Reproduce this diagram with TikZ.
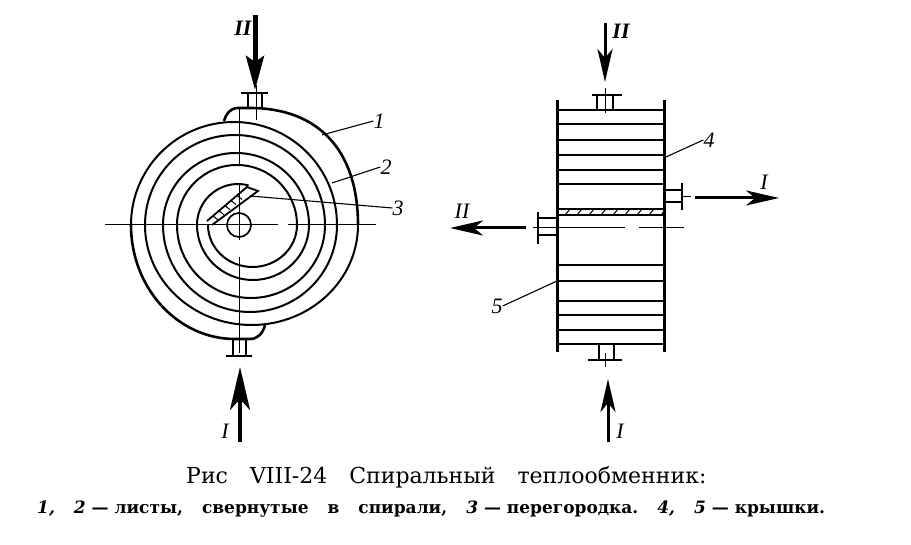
\documentclass[tikz,border=0pt]{standalone}
\usepackage{fontspec}
\setmainfont{Liberation Serif}
\newfontfamily\capfont{DejaVu Serif}
\usetikzlibrary{arrows.meta,calc}
\newcommand{\gapA}{\hspace{22pt}}
\newcommand{\gapB}{\hspace{19pt}}
\tikzset{
  sheet/.style={line width=2pt},
  outersheet/.style={line width=2.6pt},
  wall/.style={line width=3pt},
  plate/.style={line width=1.8pt},
  nozzle/.style={line width=1.7pt},
  flange/.style={line width=2.6pt},
  axisline/.style={line width=1pt},
  leader/.style={line width=1.1pt},
  flow/.style={line width=3pt,-{Stealth[length=33pt,width=15pt,inset=9pt]}},
  partlabel/.style={font=\fontsize{22}{22}\selectfont\itshape,inner sep=0pt},
  flowlabel/.style={font=\fontsize{22}{22}\selectfont\itshape,inner sep=0pt},
}
\begin{document}
\begin{tikzpicture}[x=1pt,y=1pt]
         \useasboundingbox (0,0) rectangle (911,545);
         \coordinate (Tip) at (258,354);

         \foreach \xl/\xr/\ry in {177/297/60,163/309/72,145/325/90,131/337/103}
            \draw[sheet] (\xr,320) arc[start angle=0,end angle=180,x radius={(\xr-\xl)/2},y radius=\ry];
         \foreach \xl/\xr/\ry in {208/297/42,197/309/55,177/325/73,163/337/87,145/358/100}
            \draw[sheet] (\xl,320) arc[start angle=180,end angle=360,x radius={(\xr-\xl)/2},y radius=\ry];
         \draw[sheet] (248.6,359.6) arc[start angle=75,end angle=180,radius=41];

         \draw[outersheet] (358,320) .. controls (358,395) and (318,437) .. (250,437) -- (238,437) .. controls (230,437) and (226,431) .. (224,424);
         \draw[outersheet] (131,320) arc[start angle=180,end angle=270,x radius=104,y radius=114] -- (250,206) .. controls (258,206) and (263,212) .. (265,220);

         \draw[plate] (207,324) -- (247,358) -- (Tip) -- (212,320);
         \foreach \t in {.15,.3,.45,.6,.75}
            \draw[axisline] ($(207,324)!\t!(247,358)$) -- ++(5,-4);

         \draw[axisline] (105,320) -- (278,320) (288,320) -- (376,320);
         \draw[axisline] (239,438) -- (239,379) (239,361) -- (239,305) (239,288) -- (239,192);

         \node[circle,draw,line width=1.7pt,minimum size=24pt,inner sep=0pt] (Hub) at (239,320) {};

         \draw[nozzle] (248,452) -- (248,437) (262,452) -- (262,437);
         \draw[flange] (241,452) -- (268,452);
         \draw[axisline] (256,460) -- (256,425);
         \draw[nozzle] (233,206) -- (233,189) (246,206) -- (246,189);
         \draw[flange] (226,189) -- (252,189);

         \coordinate (ArrowAtail) at (240,103);
         \coordinate (ArrowAtip) at (240,178);
         \draw[flow,line width=4pt,-{Stealth[length=43pt,width=20pt,inset=11pt]}] (ArrowAtail) -- (ArrowAtip);
         \node[flowlabel] (LabelA) at (225,114) {I};

         \coordinate (ArrowBtail) at (255,530);
         \coordinate (ArrowBtip) at (255,455);
         \draw[flow,line width=5pt,-{Stealth[length=34pt,width=18pt,inset=6pt]}] (ArrowBtail) -- (ArrowBtip);
         \node[flowlabel,font=\fontsize{22}{22}\selectfont\itshape\bfseries] (LabelB) at (243,517) {II};

         \coordinate (Sheetone) at (322,410);
         \coordinate (Sheettwo) at (332,362);
         \coordinate (Baffletip) at (250,349);
         \node[partlabel] (One) at (379,424) {1};
         \node[partlabel] (Two) at (386,378) {2};
         \node[partlabel] (Three) at (398,337) {3};
         \draw[leader] (Sheetone) -- (One.west);
         \draw[leader] (Sheettwo) -- (Two.west);
         \draw[leader] (Baffletip) -- (Three.west);

         \draw[wall] (557,445) -- (557,193);
         \draw[wall] (664,445) -- (664,193);
         \foreach \y in {435,421,405,390,375,361,336,330,280,264,244,230,215,201}
            \draw[plate] (557,\y) -- (664,\y);
         \foreach \x in {565,577,...,661}
            \draw[axisline] (\x,330) -- (\x+5,336);
         \draw[axisline] (533,317) -- (557,317) (559,317) -- (625,317) (639,317) -- (684,317);

         \draw[nozzle] (597,450) -- (597,435) (613,450) -- (613,435);
         \draw[flange] (592,450) -- (622,450);
         \draw[axisline] (605,457) -- (605,432);
         \draw[nozzle] (599,201) -- (599,185) (614,201) -- (614,185);
         \draw[flange] (588,185) -- (622,185);
         \draw[axisline] (605,192) -- (605,178);
         \draw[nozzle] (664,355) -- (682,355) (664,343) -- (682,343);
         \draw[flange] (682,362) -- (682,335);
         \draw[axisline] (682,348) -- (691,348);
         \draw[nozzle] (538,327) -- (557,327) (538,310) -- (557,310);
         \draw[flange] (538,333) -- (538,301);

         \coordinate (ArrowCtail) at (605,522);
         \coordinate (ArrowCtip) at (605,463);
         \draw[flow] (ArrowCtail) -- (ArrowCtip);
         \node[flowlabel,font=\fontsize{22}{22}\selectfont\itshape\bfseries] (LabelC) at (621,514) {II};

         \coordinate (ArrowDtail) at (608,103);
         \coordinate (ArrowDtip) at (608,166);
         \draw[flow] (ArrowDtail) -- (ArrowDtip);
         \node[flowlabel] (LabelD) at (620,114) {I};

         \coordinate (ArrowEtail) at (695,347);
         \coordinate (ArrowEtip) at (779,347);
         \draw[flow] (ArrowEtail) -- (ArrowEtip);
         \node[flowlabel] (LabelE) at (764,363) {I};

         \coordinate (ArrowFtail) at (526,317);
         \coordinate (ArrowFtip) at (450,317);
         \draw[flow] (ArrowFtail) -- (ArrowFtip);
         \node[flowlabel] (LabelF) at (462,334) {II};

         \coordinate (Coverfour) at (666,388);
         \coordinate (Coverfive) at (557,264);
         \node[partlabel] (Four) at (709,405) {4};
         \node[partlabel] (Five) at (497,239) {5};
         \draw[leader] (Coverfour) -- (Four.west);
         \draw[leader] (Coverfive) -- (Five.east);

         \node[anchor=base west,inner sep=0pt,font=\capfont\fontsize{22}{22}\selectfont] (CaptionA) at (186,61) {Рис\gapA VIII-24\gapA Спиральный\gapA теплообменник:};
         \node[anchor=base west,inner sep=0pt,font=\capfont\bfseries\fontsize{17}{17}\selectfont] (CaptionB) at (37,31) {\textit{1,}\gapB\textit{2} — листы,\gapB свернутые\gapB в\gapB спирали,\gapB\textit{3} — перегородка.\gapB\textit{4,}\gapB\textit{5} — крышки.};
      \end{tikzpicture}
\end{document}
